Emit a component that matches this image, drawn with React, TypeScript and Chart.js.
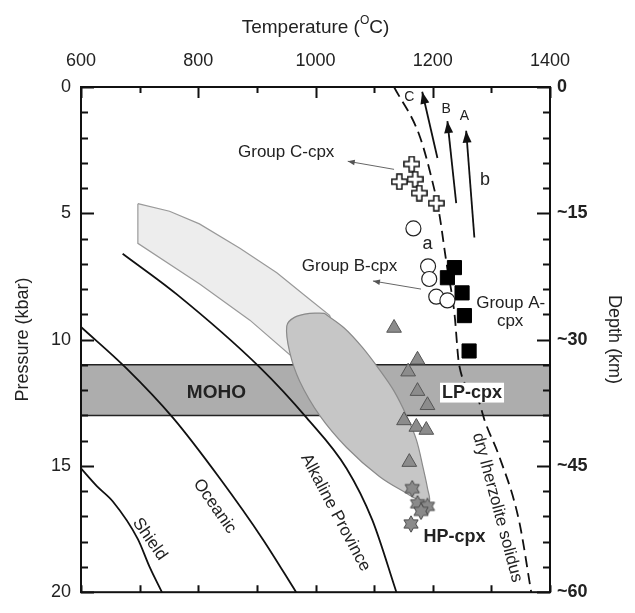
import React, { useEffect, useRef } from 'react';
import { Chart, registerables } from 'chart.js';

Chart.register(...registerables);

const FONT = 'Arial, "Liberation Sans", Helvetica, sans-serif';

// ---- axes ----
const tempMin = 600;
const tempMax = 1400;
const tempStep = 100;
const tempLabelStep = 200;
const presMin = 0;
const presMax = 20;
const presStep = 1;
const presLabelStep = 5;
const depthLabels = ['0', '~15', '~30', '~45', '~60'];

// ---- geotherms (T in °C, P in kbar) ----
const shieldT = [600, 627, 654, 697, 717, 738];
const shieldP = [15.1, 15.8, 16.4, 17.9, 19.0, 20.0];
const oceanicT = [600, 678, 757, 837, 910, 967];
const oceanicP = [9.5, 11.15, 13.1, 15.5, 17.9, 20.0];
const alkalineT = [671, 763, 905, 985, 1053, 1097, 1138];
const alkalineP = [6.6, 8.2, 11.1, 13.1, 15.1, 17.15, 20.0];
const solidusT = [1134, 1177, 1199, 1211, 1223, 1237, 1245, 1276, 1290, 1313, 1347, 1368];
const solidusP = [0, 1.9, 3.7, 5.0, 6.9, 8.96, 11.0, 12.3, 13.3, 14.6, 17.15, 20.0];

// ---- MOHO band ----
const mohoTop = 11;
const mohoBottom = 13;

// ---- shaded fields ----
const lightT = [697, 751, 802, 871, 934, 985, 1024, 1040, 1000, 961, 888, 803, 697, 697];
const lightP = [4.62, 4.92, 5.42, 6.38, 7.35, 8.31, 9.04, 10.0, 11.0, 10.7, 9.23, 7.81, 6.19, 4.62];
const blobT = [1015, 1049, 1080, 1109, 1134, 1155, 1172, 1184, 1191, 1194, 1177, 1155, 1109, 1053, 1007, 973, 956, 951, 964, 990, 1015];
const blobP = [8.96, 9.54, 10.31, 11.19, 12.04, 13.0, 13.96, 15.12, 15.88, 16.42, 16.35, 16.08, 15.42, 14.27, 13.0, 11.65, 10.5, 9.46, 9.12, 8.96, 8.96];

// ---- samples ----
const groupCT = [1164, 1143, 1170, 1177, 1206];
const groupCP = [3.05, 3.75, 3.65, 4.2, 4.6];
const groupBT = [1167, 1192, 1194, 1206, 1225];
const groupBP = [5.6, 7.1, 7.6, 8.3, 8.45];
const groupAT = [1237, 1225, 1250, 1254, 1262];
const groupAP = [7.15, 7.55, 8.15, 9.05, 10.45];
const lpT = [1134, 1174, 1158, 1174, 1191, 1151, 1172, 1189, 1160];
const lpP = [9.54, 10.8, 11.27, 12.04, 12.6, 13.2, 13.46, 13.58, 14.85];
const hpT = [1165, 1174, 1191, 1180, 1163];
const hpP = [15.9, 16.5, 16.6, 16.8, 17.3];

// ---- trend arrows (tail -> tip) ----
const trendNames = ['C', 'B', 'A'];
const trendTailT = [1208, 1240, 1271];
const trendTailP = [2.81, 4.6, 5.96];
const trendTipT = [1182, 1225, 1257];
const trendTipP = [0.19, 1.35, 1.73];

// ---- pointer arrows (tail -> tip) ----
const pointerTailT = [1134, 1180];
const pointerTailP = [3.26, 8.0];
const pointerTipT = [1055, 1098];
const pointerTipP = [2.94, 7.68];

// ---- text annotations ----
const notes = [
  { text: 'Group C-cpx', T: 950, P: 2.6, size: 17, bold: false, rot: 0, bg: false },
  { text: 'Group B-cpx', T: 1058, P: 7.1, size: 17, bold: false, rot: 0, bg: false },
  { text: 'Group A-', T: 1333, P: 8.55, size: 17, bold: false, rot: 0, bg: false },
  { text: 'cpx', T: 1332, P: 9.28, size: 17, bold: false, rot: 0, bg: false },
  { text: 'a', T: 1191, P: 6.23, size: 18, bold: false, rot: 0, bg: false },
  { text: 'b', T: 1289, P: 3.69, size: 18, bold: false, rot: 0, bg: false },
  { text: 'C', T: 1160, P: 0.42, size: 14, bold: false, rot: 0, bg: false },
  { text: 'B', T: 1223, P: 0.88, size: 14, bold: false, rot: 0, bg: false },
  { text: 'A', T: 1254, P: 1.15, size: 14, bold: false, rot: 0, bg: false },
  { text: 'MOHO', T: 831, P: 12.1, size: 19, bold: true, rot: 0, bg: false },
  { text: 'LP-cpx', T: 1267, P: 12.1, size: 18, bold: true, rot: 0, bg: true },
  { text: 'HP-cpx', T: 1237, P: 17.8, size: 18, bold: true, rot: 0, bg: false },
  { text: 'Shield', T: 717, P: 17.9, size: 17, bold: false, rot: 55, bg: false },
  { text: 'Oceanic', T: 828, P: 16.6, size: 17, bold: false, rot: 55, bg: false },
  { text: 'Alkaline Province', T: 1034, P: 16.85, size: 17, bold: false, rot: 62, bg: false },
  { text: 'dry lherzolite solidus', T: 1310, P: 16.65, size: 17, bold: false, rot: 75, bg: false },
];

const pts = (T: number[], P: number[]) => T.map((t, i) => ({ x: t, y: P[i] }));

function makeCross(s: number) {
  const c = document.createElement('canvas');
  c.width = s;
  c.height = s;
  const g = c.getContext('2d')!;
  const o = 0.9;
  const w = (s - 2 * o) / 3;
  const a = o, b = o + w, d = o + 2 * w, e = o + 3 * w;
  g.beginPath();
  g.moveTo(b, a); g.lineTo(d, a); g.lineTo(d, b); g.lineTo(e, b); g.lineTo(e, d); g.lineTo(d, d);
  g.lineTo(d, e); g.lineTo(b, e); g.lineTo(b, d); g.lineTo(a, d); g.lineTo(a, b); g.lineTo(b, b);
  g.closePath();
  g.fillStyle = '#fff';
  g.fill();
  g.strokeStyle = '#111';
  g.lineWidth = 1.5;
  g.stroke();
  return c;
}

function makeStar(s: number) {
  const c = document.createElement('canvas');
  c.width = s;
  c.height = s;
  const g = c.getContext('2d')!;
  const R = s / 2 - 0.8;
  const r = R / Math.sqrt(3);
  g.beginPath();
  for (let i = 0; i < 12; i++) {
    const ang = -Math.PI / 2 + (i * Math.PI) / 6;
    const rad = i % 2 === 0 ? R : r;
    const x = s / 2 + rad * Math.cos(ang);
    const y = s / 2 + rad * Math.sin(ang);
    if (i === 0) g.moveTo(x, y);
    else g.lineTo(x, y);
  }
  g.closePath();
  g.fillStyle = '#8a8a8a';
  g.fill();
  g.strokeStyle = '#4a4a4a';
  g.lineWidth = 1;
  g.stroke();
  return c;
}

function arrowHead(ctx: CanvasRenderingContext2D, x1: number, y1: number, x2: number, y2: number, len: number, half: number, color: string) {
  const ang = Math.atan2(y2 - y1, x2 - x1);
  ctx.save();
  ctx.translate(x2, y2);
  ctx.rotate(ang);
  ctx.beginPath();
  ctx.moveTo(0, 0);
  ctx.lineTo(-len, half);
  ctx.lineTo(-len, -half);
  ctx.closePath();
  ctx.fillStyle = color;
  ctx.fill();
  ctx.restore();
}

const overlayPlugin = {
  id: 'overlay',
  afterDatasetsDraw(chart: any) {
    const { ctx, scales } = chart;
    const xs = scales.x;
    const ys = scales.y;
    const px = (t: number) => xs.getPixelForValue(t);
    const py = (p: number) => ys.getPixelForValue(p);
    ctx.save();
    trendTipT.forEach((t, i) => {
      arrowHead(ctx, px(trendTailT[i]), py(trendTailP[i]), px(t), py(trendTipP[i]), 12, 4.5, '#111');
    });
    pointerTipT.forEach((t, i) => {
      arrowHead(ctx, px(pointerTailT[i]), py(pointerTailP[i]), px(t), py(pointerTipP[i]), 7, 2.8, '#555');
    });
    notes.forEach((n) => {
      ctx.save();
      ctx.translate(px(n.T), py(n.P));
      ctx.rotate((n.rot * Math.PI) / 180);
      ctx.font = `${n.bold ? 'bold ' : ''}${n.size}px ${FONT}`;
      ctx.textAlign = 'center';
      ctx.textBaseline = 'middle';
      if (n.bg) {
        const w = ctx.measureText(n.text).width;
        ctx.fillStyle = '#fff';
        ctx.fillRect(-w / 2 - 2, -n.size * 0.55, w + 4, n.size * 1.1);
      }
      ctx.fillStyle = '#222';
      ctx.fillText(n.text, 0, 0);
      ctx.restore();
    });
    ctx.restore();
  },
  afterDraw(chart: any) {
    const { ctx, chartArea: a, scales } = chart;
    const xs = scales.x;
    const ys = scales.y;
    ctx.save();
    ctx.strokeStyle = '#111';
    ctx.lineWidth = 2;
    ctx.beginPath();
    xs.ticks.forEach((tk: any) => {
      const x = Math.round(xs.getPixelForValue(tk.value)) + 0.5;
      const major = tk.value % tempLabelStep === 0;
      ctx.moveTo(x, a.top);
      ctx.lineTo(x, a.top + (major ? 11 : 6));
      ctx.moveTo(x, a.bottom);
      ctx.lineTo(x, a.bottom - 7);
    });
    ys.ticks.forEach((tk: any) => {
      const y = Math.round(ys.getPixelForValue(tk.value)) + 0.5;
      const major = tk.value % presLabelStep === 0;
      ctx.moveTo(a.left, y);
      ctx.lineTo(a.left + (major ? 13 : 7), y);
      ctx.moveTo(a.right, y);
      ctx.lineTo(a.right - (major ? 13 : 7), y);
    });
    ctx.stroke();
    ctx.strokeRect(a.left, a.top, a.right - a.left, a.bottom - a.top);

    const cx = (a.left + a.right) / 2;
    const ty = 28;
    const p1 = 'Temperature (';
    const p2 = 'O';
    const p3 = 'C)';
    ctx.font = `19px ${FONT}`;
    const w1 = ctx.measureText(p1).width;
    const w3 = ctx.measureText(p3).width;
    ctx.font = `12px ${FONT}`;
    const w2 = ctx.measureText(p2).width;
    let x = cx - (w1 + w2 + w3) / 2;
    ctx.fillStyle = '#222';
    ctx.textAlign = 'left';
    ctx.textBaseline = 'middle';
    ctx.font = `19px ${FONT}`;
    ctx.fillText(p1, x, ty);
    x += w1;
    ctx.font = `12px ${FONT}`;
    ctx.fillText(p2, x, ty - 7);
    x += w2;
    ctx.font = `19px ${FONT}`;
    ctx.fillText(p3, x, ty);
    ctx.restore();
  },
};

export default function App() {
  const ref = useRef<HTMLCanvasElement>(null);

  useEffect(() => {
    const canvas = ref.current;
    if (!canvas) return;
    const crossImg = makeCross(17);
    const starImg = makeStar(18);

    const curve = (T: number[], P: number[], dash: number[] = []) => ({
      data: pts(T, P),
      showLine: true,
      borderColor: '#111',
      borderWidth: 1.8,
      borderDash: dash,
      pointRadius: 0,
      fill: false,
      cubicInterpolationMode: 'monotone',
    });

    const layers: any[] = [
      {
        data: pts([tempMin, tempMax, tempMax, tempMin, tempMin], [mohoTop, mohoTop, mohoBottom, mohoBottom, mohoTop]),
        showLine: true,
        fill: 'shape',
        backgroundColor: '#adadad',
        borderColor: '#222',
        borderWidth: 1.5,
        pointRadius: 0,
      },
      {
        data: pts(lightT, lightP),
        showLine: true,
        fill: 'shape',
        backgroundColor: '#ededed',
        borderColor: '#9a9a9a',
        borderWidth: 1.2,
        pointRadius: 0,
      },
      {
        data: pts(blobT, blobP),
        showLine: true,
        fill: 'shape',
        backgroundColor: 'rgb(198,198,198)',
        borderColor: '#8a8a8a',
        borderWidth: 1.2,
        pointRadius: 0,
        tension: 0.35,
      },
      curve(shieldT, shieldP),
      curve(oceanicT, oceanicP),
      curve(alkalineT, alkalineP),
      curve(solidusT, solidusP, [11, 6]),
      ...trendNames.map((_, i) => ({
        data: pts([trendTailT[i], trendTipT[i]], [trendTailP[i], trendTipP[i]]),
        showLine: true,
        borderColor: '#111',
        borderWidth: 1.8,
        pointRadius: 0,
      })),
      ...pointerTailT.map((_, i) => ({
        data: pts([pointerTailT[i], pointerTipT[i]], [pointerTailP[i], pointerTipP[i]]),
        showLine: true,
        borderColor: '#666',
        borderWidth: 1,
        pointRadius: 0,
      })),
      {
        data: pts(lpT, lpP),
        pointStyle: 'triangle',
        pointRadius: 8.5,
        backgroundColor: '#8c8c8c',
        borderColor: '#555',
        borderWidth: 1,
      },
      {
        data: pts(hpT, hpP),
        pointStyle: starImg,
        pointRadius: 9,
      },
      {
        data: pts(groupAT, groupAP),
        pointStyle: 'rect',
        pointRadius: 10,
        backgroundColor: '#000',
        borderColor: '#000',
        borderWidth: 1,
      },
      {
        data: pts(groupBT, groupBP),
        pointStyle: 'circle',
        pointRadius: 7.5,
        backgroundColor: '#fff',
        borderColor: '#222',
        borderWidth: 1.2,
      },
      {
        data: pts(groupCT, groupCP),
        pointStyle: crossImg,
        pointRadius: 9,
      },
    ];
    const n = layers.length;
    layers.forEach((l, i) => {
      l.order = n - i;
    });

    const tickFont = { family: FONT, size: 18 };

    const chart = new Chart(canvas, {
      type: 'scatter',
      data: { datasets: layers },
      options: {
        responsive: false,
        animation: false,
        events: [],
        layout: { padding: { left: 0, right: 0, top: 0, bottom: 6 } },
        plugins: {
          legend: { display: false },
          tooltip: { enabled: false },
          title: { display: false },
        },
        scales: {
          x: {
            type: 'linear',
            position: 'top',
            min: tempMin,
            max: tempMax,
            ticks: {
              stepSize: tempStep,
              autoSkip: false,
              maxRotation: 0,
              padding: 15,
              color: '#222',
              font: tickFont,
              callback: (v: any) => (Number(v) % tempLabelStep === 0 ? String(v) : ''),
            },
            grid: { display: false, drawTicks: false },
            border: { display: false },
            afterFit: (s: any) => {
              s.height = 87;
            },
          },
          y: {
            type: 'linear',
            position: 'left',
            reverse: true,
            min: presMin,
            max: presMax,
            ticks: {
              stepSize: presStep,
              autoSkip: false,
              padding: 10,
              color: '#222',
              font: tickFont,
              callback: (v: any) => (Number(v) % presLabelStep === 0 ? String(v) : ''),
            },
            title: {
              display: true,
              text: 'Pressure (kbar)',
              color: '#222',
              font: { family: FONT, size: 18 },
              padding: { top: 12, bottom: 0 },
            },
            grid: { display: false, drawTicks: false },
            border: { display: false },
            afterFit: (s: any) => {
              s.width = 81;
            },
          },
          y2: {
            type: 'linear',
            position: 'right',
            reverse: true,
            min: presMin,
            max: presMax,
            ticks: {
              stepSize: presStep,
              autoSkip: false,
              padding: 7,
              color: '#222',
              font: { family: FONT, size: 18, weight: 'bold' },
              callback: (v: any) => (Number(v) % presLabelStep === 0 ? depthLabels[Number(v) / presLabelStep] : ''),
            },
            title: {
              display: true,
              text: 'Depth (km)',
              color: '#222',
              font: { family: FONT, size: 18 },
              padding: { top: 10, bottom: 0 },
            },
            grid: { display: false, drawTicks: false },
            border: { display: false },
            afterFit: (s: any) => {
              s.width = 85;
            },
          },
        },
      } as any,
      plugins: [overlayPlugin],
    });

    return () => chart.destroy();
  }, []);

  return (
    <div style={{ position: 'fixed', left: 0, top: 0, width: 635, height: 613, background: '#fff' }}>
      <canvas ref={ref} width={635} height={613} style={{ display: 'block', width: 635, height: 613 }} />
    </div>
  );
}
